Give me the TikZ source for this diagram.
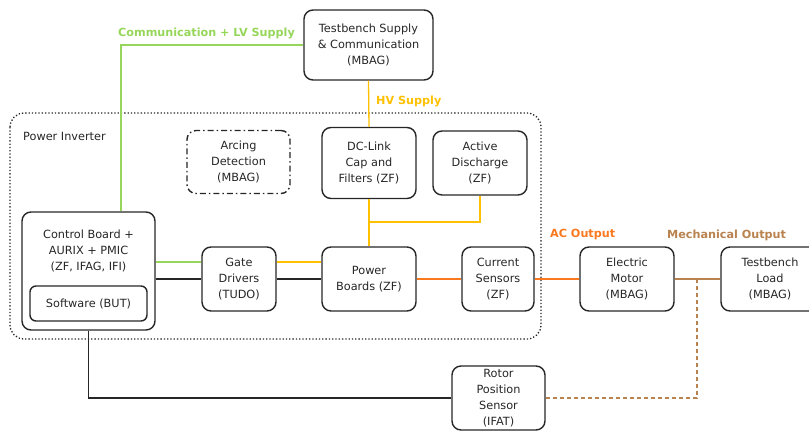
\documentclass[tikz,border=0pt]{standalone}
\usepackage{fontspec}
\setmainfont{DejaVu Sans}
\begin{document}
\begin{tikzpicture}[x=1pt,y=-1pt,
  box/.style={draw=black!85,line width=1.4pt,rounded corners=9pt,align=center,
    inner sep=0pt,font=\fontsize{11.3}{15.8}\selectfont,text=black!85},
  frame/.style={draw=black!85,line width=1.3pt,dotted,rounded corners=14pt},
  lbl/.style={anchor=west,inner sep=0pt,font=\fontsize{11.2}{13}\selectfont\bfseries},
  wire/.style={line width=1.3pt},
  ctl/.style={wire,draw=black!85},
  lv/.style={wire,draw=lvgreen},
  hv/.style={wire,draw=hvyellow},
  ac/.style={wire,draw=acorange},
  mech/.style={wire,draw=mechbrown}]
\definecolor{lvgreen}{RGB}{150,214,90}
\definecolor{hvyellow}{RGB}{255,192,0}
\definecolor{acorange}{RGB}{250,120,30}
\definecolor{mechbrown}{RGB}{185,130,78}
\useasboundingbox (0,0) rectangle (809,432);
\clip (0,0) rectangle (809,432);

% inverter enclosure
\draw[frame] (10,113) rectangle (541,339);
\node[lbl,font=\fontsize{11.3}{14}\selectfont,text=black!85] (invlbl) at (23,136) {Power Inverter};

% blocks
\node[box,minimum width=129pt,minimum height=70pt] (tbs) at (368.5,45) {Testbench Supply\\\& Communication\\(MBAG)};
\node[box,minimum width=103pt,minimum height=63pt,dash pattern=on 6pt off 3pt on 1.5pt off 3pt] (arc) at (238.5,162) {Arcing\\Detection\\(MBAG)};
\node[box,minimum width=94pt,minimum height=71pt] (dcl) at (369,163) {DC-Link\\Cap and\\Filters (ZF)};
\node[box,minimum width=94pt,minimum height=64pt] (act) at (480,163) {Active\\Discharge\\(ZF)};
\node[box,minimum width=133pt,minimum height=118pt] (ctrl) at (88.5,271) {};
\node[box,draw=none] (ctrltxt) at (88.5,251) {Control Board +\\AURIX + PMIC\\(ZF, IFAG, IFI)};
\node[box,minimum width=117pt,minimum height=35pt,rounded corners=6pt] (sw) at (88.5,303.5) {Software (BUT)};
\node[box,minimum width=74pt,minimum height=64pt] (gate) at (239,279) {Gate\\Drivers\\(TUDO)};
\node[box,minimum width=94pt,minimum height=64pt] (pwr) at (369,279) {Power\\Boards (ZF)};
\node[box,minimum width=72pt,minimum height=64pt] (cur) at (498,279) {Current\\Sensors\\(ZF)};
\node[box,minimum width=94pt,minimum height=64pt] (mot) at (627,279) {Electric\\Motor\\(MBAG)};
\node[box,minimum width=98pt,minimum height=64pt] (load) at (770,279) {Testbench\\Load\\(MBAG)};
\node[box,minimum width=93pt,minimum height=64pt] (rps) at (498.5,398) {Rotor\\Position\\Sensor\\(IFAT)};

% routing helpers
\coordinate (lvx) at (121,0);
\coordinate (upper) at (0,262);
\coordinate (lower) at (0,279);
\coordinate (hvj) at (369,222);
\coordinate (mtap) at (697,279);

% LV supply and communication
\draw[lv] (tbs.west) -| (ctrl.north -| lvx);
\draw[lv] (ctrl.east |- upper) -- (gate.west |- upper);
\draw[hv] (gate.east |- upper) -- (pwr.west |- upper);
\draw[ctl] (ctrl.east |- lower) -- (gate.west |- lower);
\draw[ctl] (gate.east |- lower) -- (pwr.west |- lower);

% HV path
\draw[hv] (tbs.south) -- (dcl.north);
\draw[hv] (dcl.south) -- (pwr.north);
\draw[hv] (hvj) -| (act.south);

% AC and mechanical outputs
\draw[ac] (pwr.east) -- (cur.west);
\draw[ac] (cur.east) -- (mot.west);
\draw[mech] (mot.east) -- (load.west);
\draw[mech,dash pattern=on 4pt off 3pt] (mtap) |- (rps.east);
\draw[ctl] (ctrl.south) |- (rps.west);

% connector labels
\node[lbl,text=lvgreen] (lvlbl) at (118,33) {Communication + LV Supply};
\node[lbl,text=hvyellow] (hvlbl) at (376,101) {HV Supply};
\node[lbl,text=acorange] (aclbl) at (550,235) {AC Output};
\node[lbl,text=mechbrown] (mechlbl) at (667,235) {Mechanical Output};
\end{tikzpicture}
\end{document}
